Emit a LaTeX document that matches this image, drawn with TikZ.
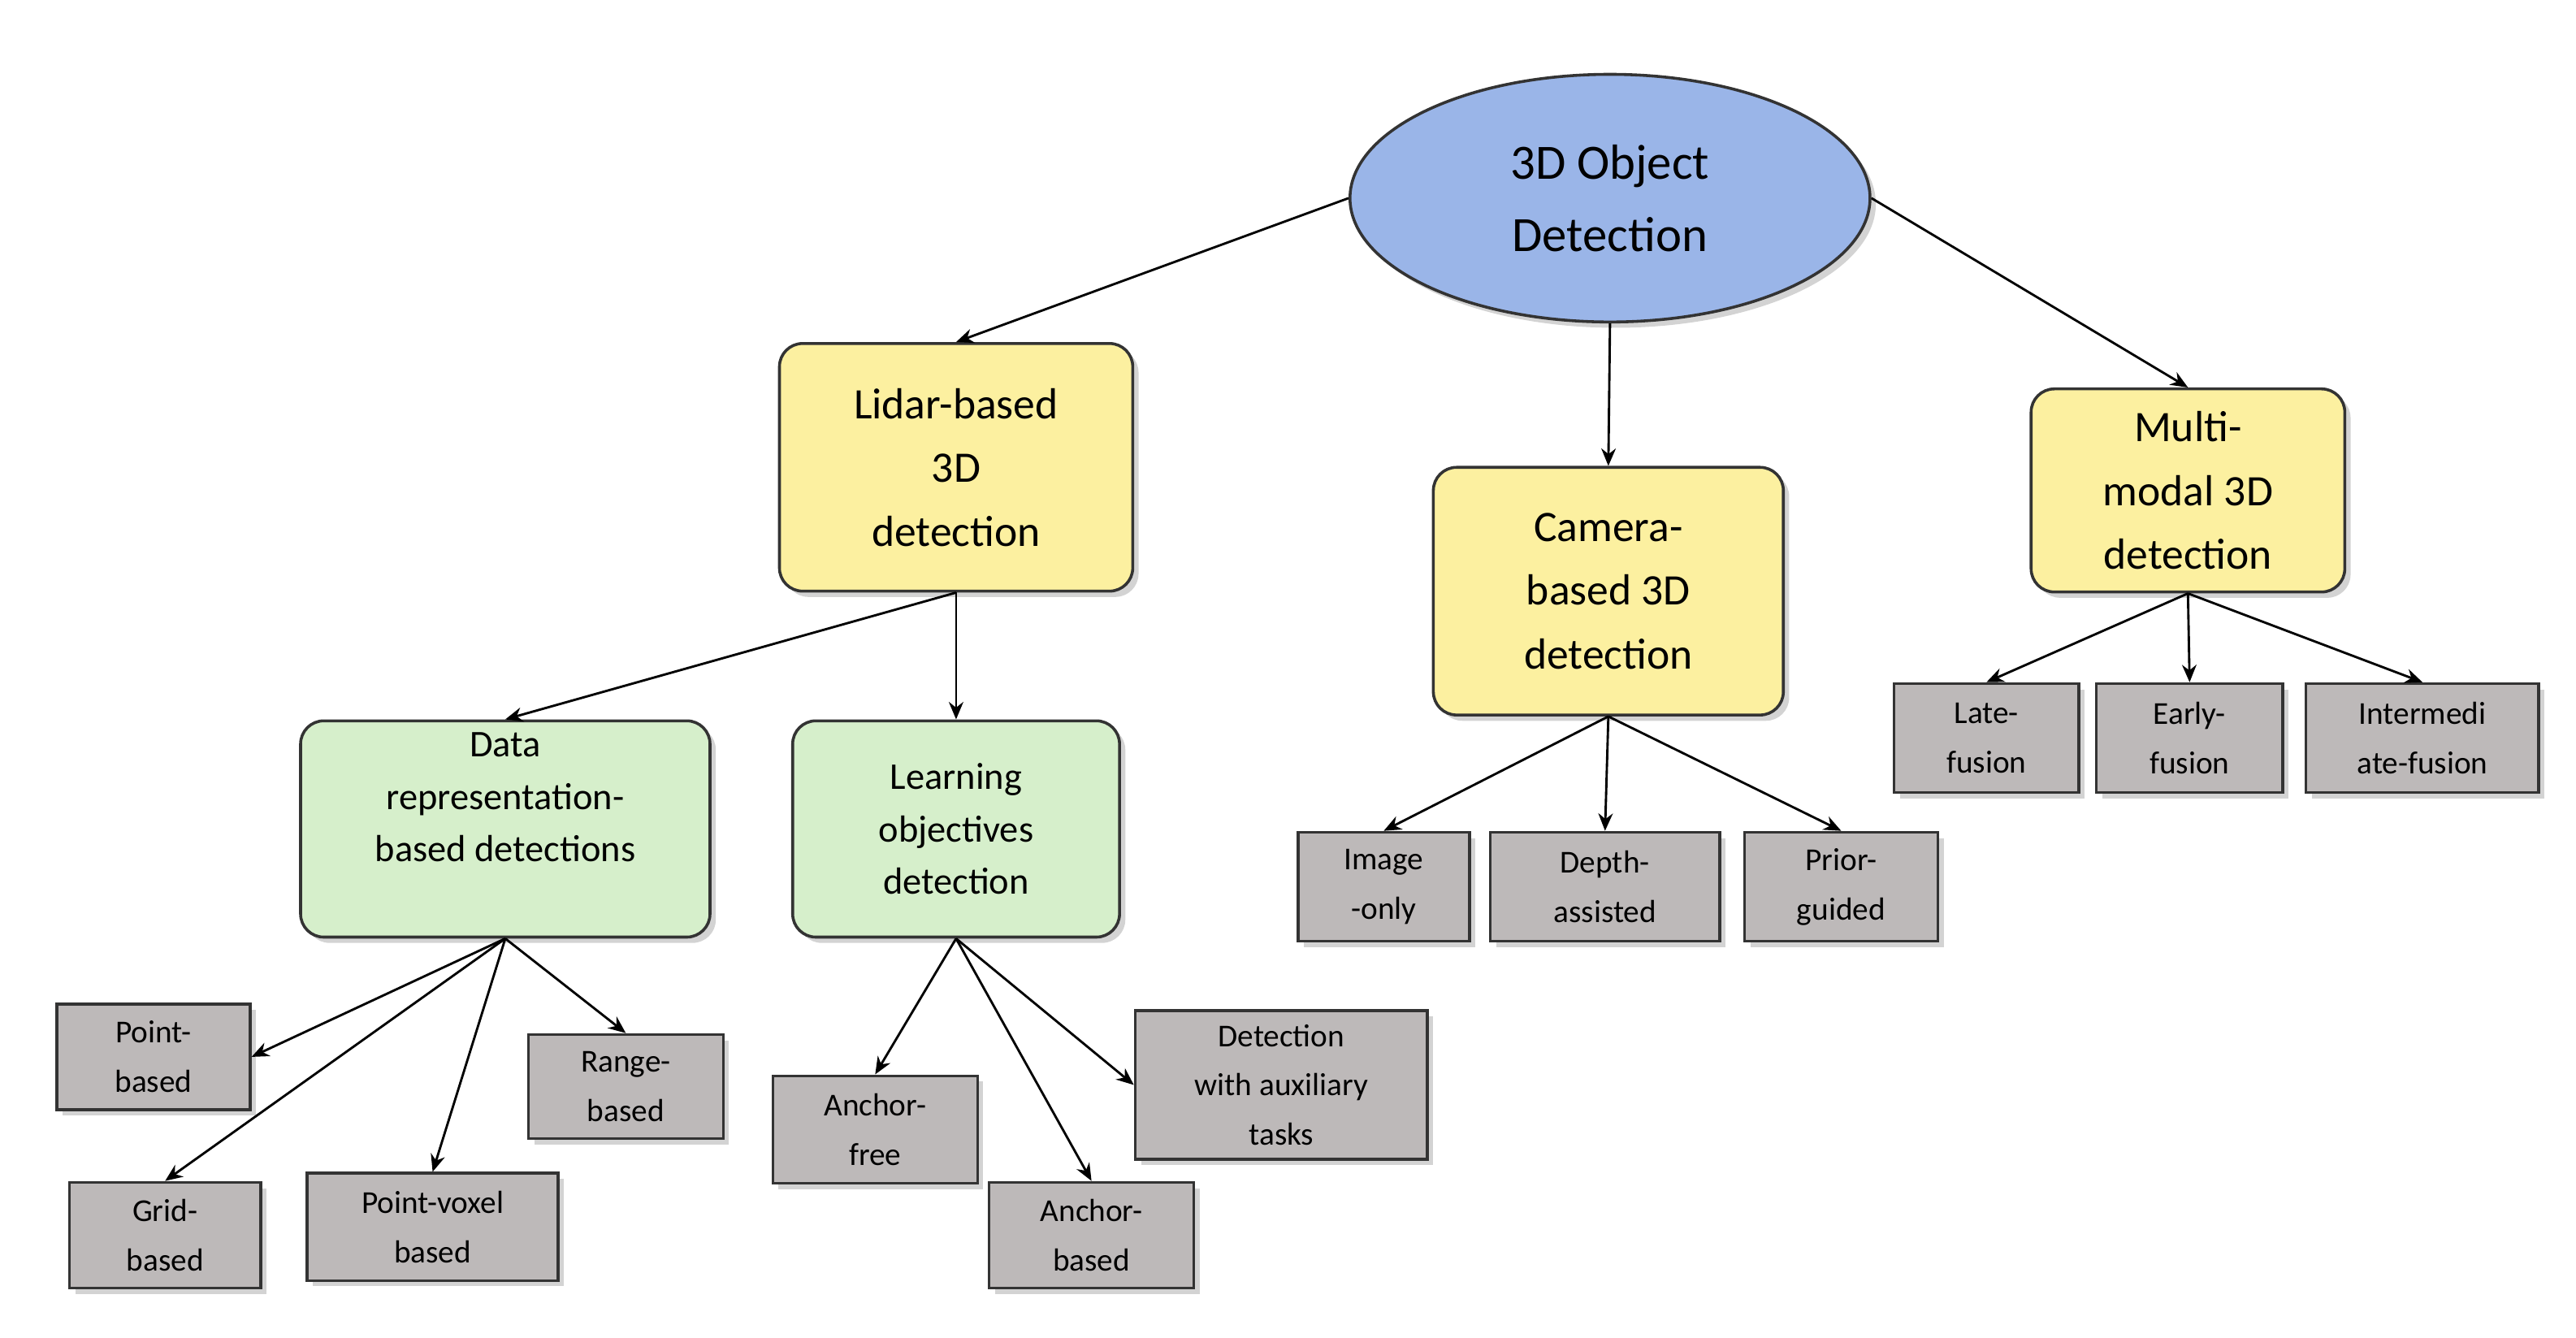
\documentclass[tikz,border=0pt]{standalone}
\usepackage{fontspec}
\setmainfont{Carlito}
\usetikzlibrary{shapes.geometric,shadows,arrows.meta}
\definecolor{rootc}{HTML}{9AB5E8}
\definecolor{yel}{HTML}{FCF0A0}
\definecolor{grn}{HTML}{D6EFCB}
\definecolor{gry}{HTML}{BDB9B9}
\begin{document}
\begin{tikzpicture}[x=0.02cm,y=-0.02cm,
 base/.style={draw=black!80,line width=1pt,align=center,inner sep=0pt,drop shadow={opacity=0.35,shadow xshift=2pt,shadow yshift=-2pt}},
 root/.style={base,ellipse,fill=rootc,minimum width=6.3cm,minimum height=3cm,font=\fontsize{17}{25}\selectfont},
 yb/.style={base,rounded corners=8pt,fill=yel,font=\fontsize{15}{22}\selectfont},
 gb/.style={base,rounded corners=8pt,fill=grn,font=\fontsize{13}{18}\selectfont},
 ab/.style={base,fill=gry,font=\fontsize{11}{17}\selectfont},
 ar/.style={-{Stealth[length=6pt,width=5pt]},line width=0.8pt}]
\useasboundingbox (0,0) rectangle (1560,810);
\node[root] (r) at (975,120) {3D Object\\Detection};
\node[yb,minimum width=4.28cm,minimum height=3cm] (l) at (579,283) {Lidar-based\\3D\\detection};
\node[yb,minimum width=4.24cm,minimum height=3cm] (c) at (974,358) {Camera-\\based 3D\\detection};
\node[yb,minimum width=3.8cm,minimum height=2.46cm] (m) at (1325,297) {Multi-\\modal 3D\\detection};
\node[gb,minimum width=4.96cm,minimum height=2.62cm] (d) at (306,502) {Data\\representation-\\based detections\\[4pt]};
\node[gb,minimum width=3.96cm,minimum height=2.62cm] (lo) at (579,502) {Learning\\objectives\\detection};
\node[ab,minimum width=2.34cm,minimum height=1.28cm] (pb) at (93,640) {Point-\\based};
\node[ab,minimum width=2.32cm,minimum height=1.28cm] (gr) at (100,748) {Grid-\\based};
\node[ab,minimum width=3.04cm,minimum height=1.3cm] (pv) at (262,743) {Point-voxel\\based};
\node[ab,minimum width=2.36cm,minimum height=1.26cm] (rb) at (379,658) {Range-\\based};
\node[ab,minimum width=2.48cm,minimum height=1.3cm] (af) at (530,684) {Anchor-\\free};
\node[ab,minimum width=2.48cm,minimum height=1.28cm] (ab) at (661,748) {Anchor-\\based};
\node[ab,minimum width=3.54cm,minimum height=1.8cm] (da) at (776,657) {Detection\\with auxiliary\\tasks};
\node[ab,minimum width=2.08cm,minimum height=1.32cm] (io) at (838,537) {Image\\-only};
\node[ab,minimum width=2.78cm,minimum height=1.32cm] (de) at (972,537) {Depth-\\assisted};
\node[ab,minimum width=2.34cm,minimum height=1.32cm] (pg) at (1115,537) {Prior-\\guided};
\node[ab,minimum width=2.24cm,minimum height=1.32cm] (lf) at (1203,447) {Late-\\fusion};
\node[ab,minimum width=2.26cm,minimum height=1.32cm] (ef) at (1326,447) {Early-\\fusion};
\node[ab,minimum width=2.82cm,minimum height=1.32cm] (if) at (1467,447) {Intermedi\\ate-fusion};
\draw[ar] (r.west) -- (l.north);
\draw[ar] (r.south) -- (c.north);
\draw[ar] (r.east) -- (m.north);
\draw[ar] (l.south) -- (d.north);
\draw[ar] (l.south) -- (lo.north);
\draw[ar] (d.south) -- (pb.east);
\draw[ar] (d.south) -- (gr.north);
\draw[ar] (d.south) -- (pv.north);
\draw[ar] (d.south) -- (rb.north);
\draw[ar] (lo.south) -- (af.north);
\draw[ar] (lo.south) -- (ab.north);
\draw[ar] (lo.south) -- (da.west);
\draw[ar] (c.south) -- (io.north);
\draw[ar] (c.south) -- (de.north);
\draw[ar] (c.south) -- (pg.north);
\draw[ar] (m.south) -- (lf.north);
\draw[ar] (m.south) -- (ef.north);
\draw[ar] (m.south) -- (if.north);
\end{tikzpicture}
\end{document}
